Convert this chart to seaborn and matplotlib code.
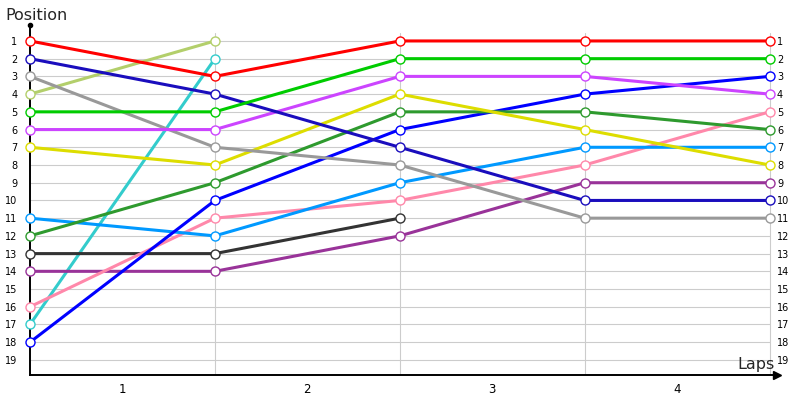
import numpy as np
import pandas as pd
import seaborn as sns
from matplotlib import pyplot as plt

laps = [0, 1, 2, 3, 4]
lap_labels = ["1", "2", "3", "4"]
positions = list(range(1, 20))

nan = np.nan
red = [1, 3, 1, 1, 1]
navy = [2, 4, 7, 10, 10]
gray = [3, 7, 8, 11, 11]
olive = [4, 1, nan, nan, nan]
green = [5, 5, 2, 2, 2]
magenta = [6, 6, 3, 3, 4]
yellow = [7, 8, 4, 6, 8]
dark_green = [12, 9, 5, 5, 6]
blue = [18, 10, 6, 4, 3]
light_blue = [11, 12, 9, 7, 7]
pink = [16, 11, 10, 8, 5]
black = [13, 13, 11, nan, nan]
purple = [14, 14, 12, 9, 9]
cyan = [17, 2, nan, nan, nan]

series = [
    (olive, "#b3cf6b"), (cyan, "#33cccc"), (black, "#333333"),
    (purple, "#993399"), (pink, "#ff88aa"), (light_blue, "#0099ff"),
    (blue, "#0000ff"), (dark_green, "#2e9a2e"), (yellow, "#dddd00"),
    (gray, "#999999"), (magenta, "#cc44ff"), (navy, "#1a0dbd"),
    (green, "#00cc00"), (red, "#ff0000"),
]

sns.set_style("white")
plt.rcParams['font.family'] = ['DejaVu Sans']

fig = plt.figure(figsize=(8, 4), dpi=100)
ax = fig.add_axes([30 / 800, 25 / 400, 747 / 800, 350 / 400])

xmax = 4.04
ymin, ymax = 19.85, 0.1

# grid
for p in positions:
    ax.plot([0, 4], [p, p], color="#cccccc", lw=0.8, zorder=0)
for x in laps[1:]:
    ax.plot([x, x], [ymin, 0.55], color="#cccccc", lw=0.8, zorder=0)

for vals, col in series:
    df = pd.DataFrame({"lap": laps, "pos": vals}).dropna()
    sns.lineplot(data=df, x="lap", y="pos", ax=ax, color=col, lw=2.2,
                 marker="o", markersize=6.5, markerfacecolor="white",
                 markeredgecolor=col, markeredgewidth=1.0, sort=False,
                 clip_on=False, zorder=3)

ax.set_xlim(0, xmax)
ax.set_ylim(ymin, ymax)
ax.set_yticks(positions)
ax.set_yticklabels([str(p) for p in positions], fontsize=7, color="black")
ax.tick_params(axis="y", length=0, pad=9)
ax.set_xticks([0.5, 1.5, 2.5, 3.5])
ax.set_xticklabels(lap_labels, fontsize=8.5, color="black")
ax.tick_params(axis="x", length=0, pad=6)
ax.set_xlabel("")
ax.set_ylabel("")

for s in ["top", "right"]:
    ax.spines[s].set_visible(False)
for s in ["left", "bottom"]:
    ax.spines[s].set_color("black")
    ax.spines[s].set_linewidth(1.4)

# axis end markers
ax.plot([0], [ymax], marker="o", color="black", markersize=3, clip_on=False)
ax.plot([xmax], [ymin], marker=">", color="black", markersize=6, clip_on=False)

twin = ax.twinx()
twin.set_ylim(ymin, ymax)
twin.set_yticks(positions)
twin.set_yticklabels([str(p) for p in positions], fontsize=7, color="black")
twin.tick_params(axis="y", length=0, pad=0)
for s in twin.spines.values():
    s.set_visible(False)

fig.text(5 / 800, 1 - 15 / 400, "Position", fontsize=11.5, va="center", ha="left")
fig.text(775 / 800, 1 - 365 / 400, "Laps", fontsize=11.5, va="center", ha="right")

plt.savefig("out.png")
